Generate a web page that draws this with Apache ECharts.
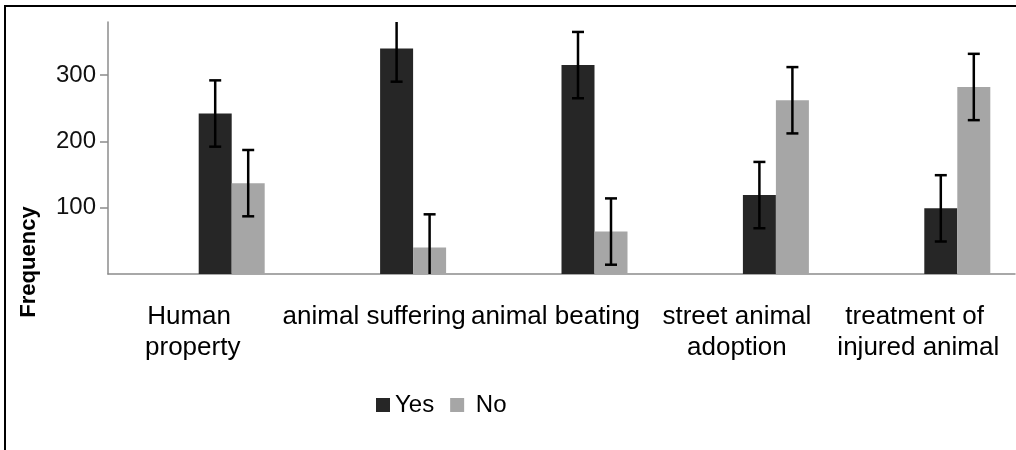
<!DOCTYPE html>
<html>
<head>
<meta charset="utf-8">
<script src="https://cdn.jsdelivr.net/npm/echarts@6/dist/echarts.min.js"></script>
<style>
  html, body { margin: 0; padding: 0; background: #fff; }
  #chart { width: 1016px; height: 450px; }
</style>
</head>
<body>
<div id="chart"></div>
<script>
// data
var categories = ["Human \nproperty", "animal suffering", "animal beating", "street animal\nadoption", "treatment of \ninjured animal"];
var yesValues = [242, 340, 315, 119, 99];
var noValues = [137, 40, 64, 262, 282];
var yesErrors = [50, 50, 50, 50, 50];
var noErrors = [50, 50, 50, 50, 50];
var yMin = 0, yMax = 380, yStep = 100;

var font = "'Liberation Sans', Arial, sans-serif";
var barW = 33;

// error bars, drawn on top of the bars with an x shift (Yes / No slot)
function errorSeries(values, errors, shift) {
  return {
    type: "custom",
    z: 10,
    data: values.map(function (v, i) { return [i, v, errors[i]]; }),
    renderItem: function (params, api) {
      var i = api.value(0), v = api.value(1), e = api.value(2);
      var hi = Math.min(yMax, v + e), lo = Math.max(yMin, v - e);
      var top = api.coord([i, hi]), bot = api.coord([i, lo]);
      var x = top[0] + shift;
      var st = { stroke: "#000", lineWidth: 2.5 };
      var kids = [{ type: "line", shape: { x1: x, y1: top[1], x2: x, y2: bot[1] }, style: st }];
      if (v + e <= yMax) kids.push({ type: "line", shape: { x1: x - 6, y1: top[1], x2: x + 6, y2: top[1] }, style: st });
      if (v - e >= yMin) kids.push({ type: "line", shape: { x1: x - 6, y1: bot[1], x2: x + 6, y2: bot[1] }, style: st });
      return { type: "group", children: kids };
    }
  };
}

var myChart = echarts.init(document.getElementById("chart"));
var option = {
  animation: false,
  backgroundColor: "#fff",
  grid: { left: 108, right: 1, top: 22, bottom: 176 },
  legend: {
    data: ["Yes", "No"],
    left: 371,
    top: 388,
    icon: "rect",
    itemWidth: 14,
    itemHeight: 14,
    itemGap: 16,
    formatter: function (name) { return name === "No" ? " " + name : name; },
    textStyle: { fontFamily: font, fontSize: 24, color: "#000" }
  },
  xAxis: {
    type: "category",
    data: categories,
    axisLine: { lineStyle: { color: "#8c8c8c", width: 1.5 } },
    axisTick: { length: 9, lineStyle: { color: "#8c8c8c", width: 1.5 } },
    axisLabel: {
      interval: 0,
      margin: 27,
      fontFamily: font,
      fontSize: 26,
      lineHeight: 31,
      color: "#000",
      padding: [0, 12, 0, 0]
    }
  },
  yAxis: {
    type: "value",
    min: yMin,
    max: yMax,
    interval: yStep,
    splitLine: { show: false },
    axisLine: { show: true, lineStyle: { color: "#8c8c8c", width: 1.5 } },
    axisTick: { show: true, length: 8, lineStyle: { color: "#8c8c8c", width: 1.5 } },
    axisLabel: {
      showMinLabel: false,
      showMaxLabel: false,
      margin: 12,
      fontFamily: font,
      fontSize: 24,
      color: "#111"
    }
  },
  graphic: [
    {
      type: "polyline",
      shape: { points: [[5, 450], [5, 6], [1016, 6]] },
      style: { stroke: "#000", lineWidth: 2, fill: null }
    },
    {
      type: "text",
      x: 29,
      y: 262,
      rotation: Math.PI / 2,
      style: {
        text: "Frequency",
        fontFamily: font,
        fontSize: 22,
        fontWeight: "bold",
        fill: "#000",
        textAlign: "center",
        textVerticalAlign: "middle"
      }
    }
  ],
  series: [
    // two empty slots: the reference's bars sit right of each category centre
    { name: "pad1", type: "bar", data: [], barWidth: barW, barGap: 0 },
    { name: "pad2", type: "bar", data: [], barWidth: barW, barGap: 0 },
    { name: "Yes", type: "bar", data: yesValues, barWidth: barW, barGap: 0, itemStyle: { color: "#262626" } },
    { name: "No", type: "bar", data: noValues, barWidth: barW, barGap: 0, itemStyle: { color: "#a6a6a6" } },
    errorSeries(yesValues, yesErrors, barW * 0.5),
    errorSeries(noValues, noErrors, barW * 1.5)
  ]
};
if (option && typeof option === "object") {
  myChart.setOption(option);
}
</script>
</body>
</html>
